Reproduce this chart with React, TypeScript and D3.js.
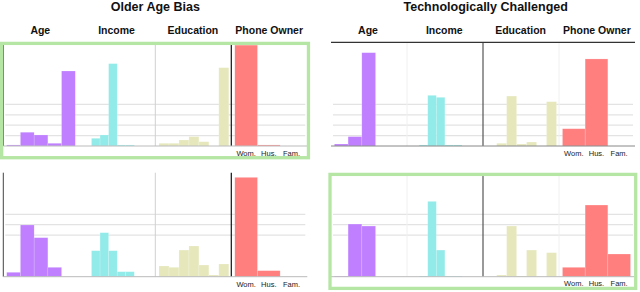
import React from "react";
import * as d3 from "d3";

// column headers and bins
const groupNames = ["Age", "Income", "Education", "Phone Owner"];
const ageBins = ["a1", "a2", "a3", "a4", "a5"];
const incomeBins = ["i1", "i2", "i3", "i4", "i5"];
const educationBins = ["e1", "e2", "e3", "e4", "e5", "e6", "e7"];
const phoneBins = ["Wom.", "Hus.", "Fam."];
const titles = ["Older Age Bias", "Technologically Challenged"];

// grid tick values (share of population, %)
const topGridTicks = [10, 20, 30, 40];
const bottomGridTicks = [40, 50, 60];

// Older Age Bias, top row
const tlAge = [1, 13.2, 10.6, 2.6, 72.1];
const tlIncome = [7.4, 10.6, 79.2, 1, 1];
const tlEducation = [2.6, 2.6, 5.8, 9, 4.1, 0, 75.3];
const tlPhone = [97, 1, 0];

// Technologically Challenged, top row
const trAge = [1.9, 9, 89.7, 0, 0];
const trIncome = [1, 48.7, 46.8, 1, 1];
const trEducation = [0, 2.6, 48, 1.9, 3.8, 0, 42.6];
const trPhone = [16.6, 83.7, 0];

// Older Age Bias, bottom row
const blAge = [4.2, 49.7, 37.5, 9, 0];
const blIncome = [25, 42.3, 25, 4.8, 4.8];
const blEducation = [10.3, 9, 25.6, 29.5, 11.2, 1.6, 12.2];
const blPhone = [95.5, 5.8, 0];

// Technologically Challenged, bottom row
const brAge = [0.6, 50.6, 48.7, 0, 0];
const brIncome = [0.6, 72.4, 25.6, 0.6, 0.6];
const brEducation = [0, 1.6, 48.7, 0.6, 25.6, 0, 23.1];
const brPhone = [9, 68.9, 21.8];

const W = 640;
const H = 292;
const PW = 304;
const FONT = "'Liberation Sans', Arial, sans-serif";
const GREEN = "#b6e6a4";

const groupColors = ["#bf7fff", "#93ebe9", "#e6e8bc", "#ff7f7f"];
const groupBins = [ageBins, incomeBins, educationBins, phoneBins];
// where each group's bars sit inside a panel (panel coordinates)
const groupRanges: [number, number][] = [
  [3.4, 72],
  [88.2, 131],
  [155.7, 225.5],
  [231.5, 299.5],
];

type Panel = {
  x0: number;
  base: number;
  values: number[][];
  grid: number[];
  variant: "left" | "right";
  labelY: number;
};

const panels: Panel[] = [
  { x0: 3.3, base: 146, values: [tlAge, tlIncome, tlEducation, tlPhone], grid: topGridTicks, variant: "left", labelY: 156 },
  { x0: 331, base: 146, values: [trAge, trIncome, trEducation, trPhone], grid: topGridTicks, variant: "right", labelY: 156 },
  { x0: 3.3, base: 276.7, values: [blAge, blIncome, blEducation, blPhone], grid: bottomGridTicks, variant: "left", labelY: 286.5 },
  { x0: 331, base: 276.7, values: [brAge, brIncome, brEducation, brPhone], grid: bottomGridTicks, variant: "right", labelY: 286 },
];

const PanelView = ({ p, top }: { p: Panel; top: boolean }) => {
  const y = d3.scaleLinear().domain([0, 100]).range([p.base, p.base - 104]);
  const x = d3.scaleLinear().domain([0, PW]).range([p.x0, p.x0 + PW]);
  const yTop = top ? (p.variant === "left" ? 45 : 42.3) : p.variant === "left" ? 172.7 : 175;

  return (
    <g>
      {p.grid.map((t) => (
        <line key={t} x1={x(2)} x2={x(302)} y1={y(t)} y2={y(t)} stroke="#e3e3e3" strokeWidth={1.2} />
      ))}
      {p.variant === "left" ? (
        <>
          <line x1={x(0)} x2={x(0)} y1={yTop} y2={p.base} stroke="#444" strokeWidth={1} />
          <line x1={x(152)} x2={x(152)} y1={yTop} y2={p.base} stroke="#d0d0d0" strokeWidth={1} />
          <line x1={x(228)} x2={x(228)} y1={yTop} y2={p.base} stroke="#111" strokeWidth={1.2} />
        </>
      ) : (
        <>
          <line x1={x(76)} x2={x(76)} y1={yTop} y2={p.base} stroke="#f0f0f0" strokeWidth={1} />
          <line x1={x(228)} x2={x(228)} y1={yTop} y2={p.base} stroke="#f0f0f0" strokeWidth={1} />
          <line x1={x(152)} x2={x(152)} y1={yTop} y2={p.base} stroke="#555" strokeWidth={1.2} />
          {top && <line x1={x(0)} x2={x(PW)} y1={42.3} y2={42.3} stroke="#333" strokeWidth={1.3} />}
        </>
      )}
      {p.values.map((vals, gi) => {
        const band = d3
          .scaleBand<string>()
          .domain(groupBins[gi])
          .range([x(groupRanges[gi][0]), x(groupRanges[gi][1])]);
        return (
          <g key={gi}>
            {vals.map((v, i) =>
              v > 0 ? (
                <rect
                  key={i}
                  x={band(groupBins[gi][i])}
                  width={band.bandwidth()}
                  y={y(v)}
                  height={p.base - y(v)}
                  fill={groupColors[gi]}
                  stroke="#ffffff"
                  strokeOpacity={0.25}
                  strokeWidth={0.6}
                />
              ) : null
            )}
            {gi === 3 &&
              phoneBins.map((b) => (
                <text
                  key={b}
                  x={(band(b) ?? 0) + band.bandwidth() / 2}
                  y={p.labelY}
                  textAnchor="middle"
                  fontSize={7.5}
                  fill="#222"
                  fontFamily={FONT}
                >
                  {b}
                </text>
              ))}
          </g>
        );
      })}
      <line x1={x(0)} x2={x(PW)} y1={p.base} y2={p.base} stroke={top && p.variant === "right" ? "#888" : "#bbb"} strokeWidth={1} />
      {top &&
        groupNames.map((g, i) => (
          <text
            key={g}
            x={x(37 + i * 76.3)}
            y={34.3}
            textAnchor="middle"
            fontSize={10.5}
            fontWeight="bold"
            fill="#111"
            fontFamily={FONT}
          >
            {g}
          </text>
        ))}
      {top && (
        <text
          x={x(p.variant === "left" ? 152 : 154.7)}
          y={11}
          textAnchor="middle"
          fontSize={12.5}
          fontWeight="bold"
          fill="#111"
          fontFamily={FONT}
        >
          {titles[p.variant === "left" ? 0 : 1]}
        </text>
      )}
    </g>
  );
};

export default function App() {
  return (
    <svg
      width={W}
      height={H}
      style={{ position: "absolute", left: 0, top: 0, background: "#fff" }}
    >
      {panels.map((p, i) => (
        <PanelView key={i} p={p} top={i < 2} />
      ))}
      <rect x={1.65} y={43.4} width={306.8} height={114.3} fill="none" stroke={GREEN} strokeWidth={3.3} />
      <rect x={330} y={174.4} width={305.7} height={114} fill="none" stroke={GREEN} strokeWidth={3.3} />
    </svg>
  );
}
